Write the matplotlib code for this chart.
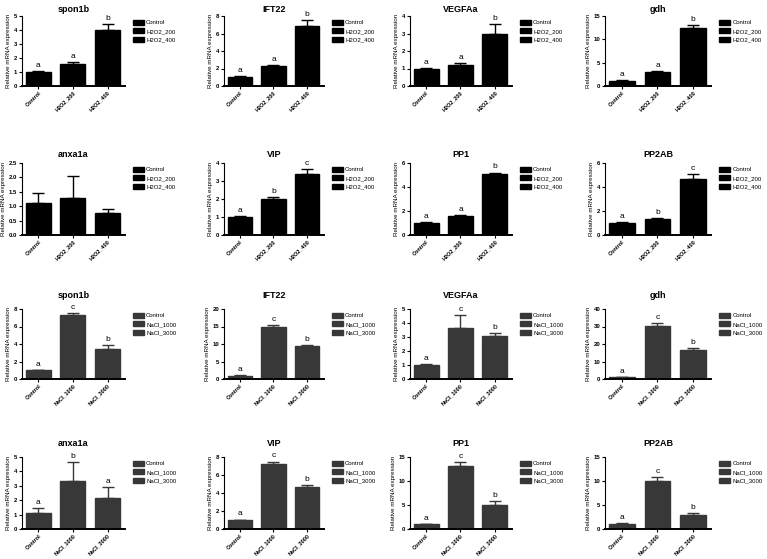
import matplotlib
matplotlib.use("Agg")
import matplotlib.pyplot as plt
from matplotlib.patches import Patch

plt.rcParams['font.family'] = ['Liberation Sans', 'DejaVu Sans']
plt.rcParams['font.weight'] = 'bold'

# groups
h2o2_groups = ['Control', 'H2O2_200', 'H2O2_400']
nacl_groups = ['Control', 'NaCl_1000', 'NaCl_3000']

genes_row1 = ['spon1b', 'IFT22', 'VEGFAa', 'gdh']
genes_row2 = ['anxa1a', 'VIP', 'PP1', 'PP2AB']

# H2O2 treatment: mean, upper error, letters, (ymax, ystep)
h2o2_means = {
    'spon1b': [1.0, 1.55, 4.0],
    'IFT22': [1.0, 2.3, 6.9],
    'VEGFAa': [1.0, 1.2, 3.0],
    'gdh': [1.0, 2.9, 12.4],
    'anxa1a': [1.12, 1.28, 0.77],
    'VIP': [1.0, 2.0, 3.4],
    'PP1': [1.0, 1.6, 5.05],
    'PP2AB': [1.0, 1.3, 4.7],
}
h2o2_err = {
    'spon1b': [0.05, 0.15, 0.42],
    'IFT22': [0.1, 0.1, 0.65],
    'VEGFAa': [0.05, 0.12, 0.52],
    'gdh': [0.2, 0.25, 0.6],
    'anxa1a': [0.33, 0.77, 0.13],
    'VIP': [0.05, 0.12, 0.25],
    'PP1': [0.08, 0.07, 0.15],
    'PP2AB': [0.05, 0.08, 0.35],
}
h2o2_letters = {
    'spon1b': ['a', 'a', 'b'],
    'IFT22': ['a', 'a', 'b'],
    'VEGFAa': ['a', 'a', 'b'],
    'gdh': ['a', 'a', 'b'],
    'anxa1a': ['', '', ''],
    'VIP': ['a', 'b', 'c'],
    'PP1': ['a', 'a', 'b'],
    'PP2AB': ['a', 'b', 'c'],
}
h2o2_ylim = {
    'spon1b': (5, 1), 'IFT22': (8, 2), 'VEGFAa': (4, 1), 'gdh': (15, 5),
    'anxa1a': (2.5, 0.5), 'VIP': (4, 1), 'PP1': (6, 2), 'PP2AB': (6, 2),
}

# NaCl treatment
nacl_means = {
    'spon1b': [1.0, 7.3, 3.4],
    'IFT22': [1.0, 15.0, 9.5],
    'VEGFAa': [1.0, 3.65, 3.1],
    'gdh': [1.0, 30.3, 16.4],
    'anxa1a': [1.1, 3.3, 2.15],
    'VIP': [1.0, 7.25, 4.65],
    'PP1': [1.0, 13.2, 4.9],
    'PP2AB': [1.0, 10.1, 3.0],
}
nacl_err = {
    'spon1b': [0.05, 0.25, 0.45],
    'IFT22': [0.1, 0.3, 0.3],
    'VEGFAa': [0.05, 0.9, 0.2],
    'gdh': [0.2, 1.5, 1.2],
    'anxa1a': [0.35, 1.35, 0.75],
    'VIP': [0.05, 0.25, 0.25],
    'PP1': [0.1, 0.8, 1.0],
    'PP2AB': [0.15, 0.8, 0.4],
}
nacl_letters = {
    'spon1b': ['a', 'c', 'b'],
    'IFT22': ['a', 'c', 'b'],
    'VEGFAa': ['a', 'c', 'b'],
    'gdh': ['a', 'c', 'b'],
    'anxa1a': ['a', 'b', 'a'],
    'VIP': ['a', 'c', 'b'],
    'PP1': ['a', 'c', 'b'],
    'PP2AB': ['a', 'c', 'b'],
}
nacl_ylim = {
    'spon1b': (8, 2), 'IFT22': (20, 5), 'VEGFAa': (5, 1), 'gdh': (40, 10),
    'anxa1a': (5, 1), 'VIP': (8, 2), 'PP1': (15, 5), 'PP2AB': (15, 5),
}

# panel placement in pixels
W, H = 767, 559
col_x = [22, 224, 410, 605]
col_w = [103, 100, 102, 106]
row_y = [(16, 86), (163, 235), (309, 379), (457, 529)]
title_pad = [3, 4, 8, 8]


def draw_panel(x0, ytop, ybot, w, gene, groups, means, errs, letters, ylim, color, tpad):
    ax = fig.add_axes([x0 / W, 1 - ybot / H, w / W, (ybot - ytop) / H])
    pos = range(len(groups))
    ax.bar(pos, means, width=0.72, color=color, edgecolor=color, zorder=2)
    ax.errorbar(pos, means, yerr=[[0] * len(errs), errs], fmt='none',
                ecolor=color, elinewidth=1.0, capsize=4, capthick=1.0, zorder=1)
    ymax, ystep = ylim
    ax.set_ylim(0, ymax)
    ticks = [i * ystep for i in range(int(round(ymax / ystep)) + 1)]
    ax.set_yticks(ticks)
    if ystep < 1:
        ax.set_yticklabels([f'{t:.1f}' for t in ticks])
    else:
        ax.set_yticklabels([f'{t:g}' for t in ticks])
    ax.set_xlim(-0.47, 2.5)
    ax.set_xticks(list(pos))
    ax.set_xticklabels(groups, rotation=45, ha='right', rotation_mode='anchor')
    ax.tick_params(axis='y', labelsize=4.3, length=2, width=0.8, pad=1.5)
    ax.tick_params(axis='x', labelsize=4.0, length=2, width=0.8, pad=1.0)
    for s in ['top', 'right']:
        ax.spines[s].set_visible(False)
    ax.spines['left'].set_linewidth(0.8)
    ax.spines['bottom'].set_linewidth(1.4)
    ax.set_ylabel('Relative mRNA expression', fontsize=4.5, labelpad=2)
    ax.set_title(gene, fontsize=6.5, fontweight='bold', pad=tpad)
    for i, (m, e, lt) in enumerate(zip(means, errs, letters)):
        if lt:
            ax.text(i, m + e + ymax * 0.03, lt, ha='center', va='bottom',
                    fontsize=6, fontweight='normal', color='black')
    handles = [Patch(facecolor=color, edgecolor=color, label=g) for g in groups]
    ax.legend(handles=handles, loc='upper left', bbox_to_anchor=(1.04, 1.0),
              frameon=False, prop={'size': 4.3, 'weight': 'normal'},
              handlelength=1.9, handleheight=0.9, labelspacing=0.55,
              handletextpad=0.35, borderaxespad=0.2)
    return ax


fig = plt.figure(figsize=(W / 100, H / 100), dpi=100)

for r, (genes, groups, means, errs, letters, ylims, color) in enumerate([
        (genes_row1, h2o2_groups, h2o2_means, h2o2_err, h2o2_letters, h2o2_ylim, '#000000'),
        (genes_row2, h2o2_groups, h2o2_means, h2o2_err, h2o2_letters, h2o2_ylim, '#000000'),
        (genes_row1, nacl_groups, nacl_means, nacl_err, nacl_letters, nacl_ylim, '#383838'),
        (genes_row2, nacl_groups, nacl_means, nacl_err, nacl_letters, nacl_ylim, '#383838')]):
    ytop, ybot = row_y[r]
    for c, gene in enumerate(genes):
        draw_panel(col_x[c], ytop, ybot, col_w[c], gene, groups, means[gene],
                   errs[gene], letters[gene], ylims[gene], color, title_pad[r])

fig.savefig('out.png', dpi=100)
